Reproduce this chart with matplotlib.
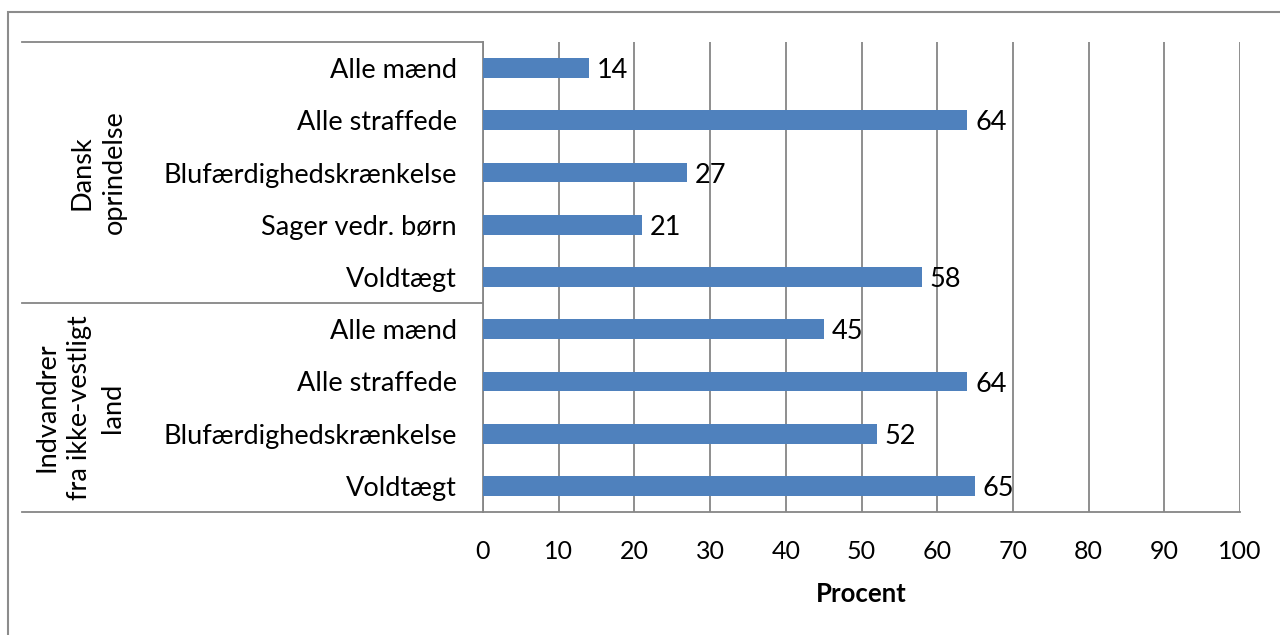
import matplotlib
matplotlib.use('Agg')
import matplotlib.pyplot as plt
from matplotlib.patches import Rectangle
import numpy as np

### data
categories = ['Alle mænd', 'Alle straffede', 'Blufærdighedskrænkelse', 'Sager vedr. børn', 'Voldtægt',
              'Alle mænd', 'Alle straffede', 'Blufærdighedskrænkelse', 'Voldtægt']
values = [14, 64, 27, 21, 58, 45, 64, 52, 65]
groups = ['Dansk\noprindelse', 'Indvandrer\nfra ikke-vestligt\nland']
group_sizes = [5, 4]
x_ticks = [0, 10, 20, 30, 40, 50, 60, 70, 80, 90, 100]

plt.rcParams['font.family'] = ['Lato', 'DejaVu Sans']
bar_color = '#4F81BD'
grid_color = '#868686'
fs = 19.5

W, H = 1280, 635
fig = plt.figure(figsize=(W / 100, H / 100), dpi=100)
# plot area in pixels: x 483..1240, y 42..512
ax = fig.add_axes([483 / W, 1 - 512 / H, (1240 - 483) / W, (512 - 42) / H])

y = np.arange(len(categories))
ax.barh(y, values, height=0.38, color=bar_color, zorder=3)
for yi, v in zip(y, values):
  ax.text(v + 1.0, yi + 0.05, str(v), va='center', ha='left', fontsize=fs, color='black', zorder=4)

ax.set_xlim(0, 100)
ax.set_ylim(len(categories) - 0.5, -0.5)
ax.set_xticks(x_ticks)
ax.set_xticklabels([str(t) for t in x_ticks], fontsize=18)
ax.set_yticks(y)
ax.set_yticklabels(categories, fontsize=fs)
ax.tick_params(axis='y', length=0, pad=19)
ax.tick_params(axis='x', length=0, pad=20)
ax.set_xlabel('Procent', fontsize=18.5, fontweight='bold', labelpad=14)

# vertical gridlines
for t in x_ticks:
  ax.axvline(t, color=grid_color, lw=1.3, zorder=1)
for s in ['top', 'right']:
  ax.spines[s].set_visible(False)
ax.spines['left'].set_color(grid_color)
ax.spines['left'].set_linewidth(1.3)
ax.spines['bottom'].set_color(grid_color)
ax.spines['bottom'].set_linewidth(1.3)

# group separators extending left of the axis
trans = ax.get_yaxis_transform()
x_left = (22 - 483) / (1240 - 483)
bounds = [-0.5]
for n in group_sizes:
  bounds.append(bounds[-1] + n)
for b in bounds:
  ax.plot([x_left, 0], [b, b], color=grid_color, lw=1.3, transform=trans, clip_on=False)

# rotated group labels
label_x = [(98 - 483) / (1240 - 483), (80 - 483) / (1240 - 483)]
for i, g in enumerate(groups):
  mid = (bounds[i] + bounds[i + 1]) / 2
  ax.text(label_x[i], mid, g, rotation=90, ha='center', va='center', fontsize=fs,
          linespacing=1.4, transform=trans)

# outer chart frame
fig.patches.append(Rectangle((8 / W, -0.1), 1.2, 1 - 12 / H + 0.1, transform=fig.transFigure,
                             fill=False, edgecolor='#8c8c8c', lw=1.5))

fig.savefig('out.png', dpi=100)
